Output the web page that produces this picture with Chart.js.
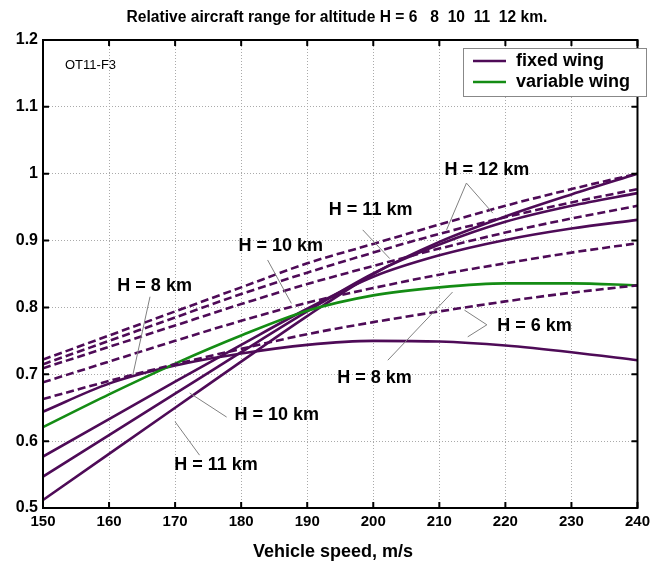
<!DOCTYPE html>
<html>
<head>
<meta charset="utf-8">
<script src="https://cdn.jsdelivr.net/npm/chart.js@4.4.1/dist/chart.umd.min.js"></script>
<style>
html,body{margin:0;padding:0;background:#fff;}
#wrap{width:655px;height:565px;position:relative;}
</style>
</head>
<body>
<div id="wrap"><canvas id="c" width="655" height="565"></canvas></div>
<script>
// ---- data ----
const speeds = [150,160,170,180,190,200,210,220,230,240];
const xTickLabels = ['150','160','170','180','190','200','210','220','230','240'];
const yTickLabels = ['0.5','0.6','0.7','0.8','0.9','1','1.1','1.2'];
const yTickValues = [0.5,0.6,0.7,0.8,0.9,1.0,1.1,1.2];

// fixed wing, solid
const fixedH6  = [0.644,0.686,0.713,0.731,0.744,0.750,0.749,0.743,0.733,0.721];
const fixedH8  = [0.577,0.633,0.689,0.744,0.798,0.846,0.878,0.901,0.918,0.931];
const fixedH10 = [0.547,0.609,0.671,0.733,0.794,0.851,0.894,0.928,0.952,0.971];
const fixedH12 = [0.512,0.581,0.650,0.719,0.787,0.850,0.898,0.936,0.969,1.000];
// fixed wing, dashed
const dashA = [0.722,0.758,0.794,0.830,0.866,0.895,0.924,0.952,0.977,1.000];
const dashB = [0.715,0.750,0.785,0.820,0.852,0.882,0.910,0.935,0.957,0.977];
const dashC = [0.709,0.741,0.773,0.805,0.835,0.862,0.888,0.912,0.933,0.952];
const dashD = [0.688,0.719,0.750,0.780,0.807,0.829,0.849,0.866,0.882,0.896];
const dashE = [0.663,0.690,0.715,0.738,0.760,0.778,0.794,0.809,0.822,0.833];
// variable wing
const variableWing = [0.621,0.670,0.716,0.758,0.795,0.818,0.830,0.836,0.836,0.833];

// annotations: text, text position, pointer segments (data coords)
const notes = [
  {text:'H = 12 km', at:[217.2,1.0055], lines:[[[214.1,0.986],[211.1,0.916]],[[214.1,0.986],[218.1,0.941]]]},
  {text:'H = 11 km', at:[199.6,0.946], lines:[[[198.4,0.916],[202.5,0.873]]]},
  {text:'H = 10 km', at:[186.0,0.892], lines:[[[184.0,0.871],[187.6,0.806]]]},
  {text:'H = 8 km',  at:[166.9,0.832], lines:[[[166.2,0.816],[163.6,0.699]]]},
  {text:'H = 6 km',  at:[224.4,0.772], lines:[[[217.2,0.774],[213.8,0.796]],[[217.2,0.774],[214.3,0.756]]]},
  {text:'H = 8 km',  at:[200.2,0.694], lines:[[[202.2,0.721],[212.0,0.823]]]},
  {text:'H = 10 km', at:[185.4,0.639], lines:[[[177.8,0.636],[172.2,0.672]]]},
  {text:'H = 11 km', at:[176.2,0.564], lines:[[[173.7,0.579],[170.0,0.629]]]}
];

const PURPLE = '#4e0b57';
const GREEN = '#148c14';
const FONT = '"Liberation Sans", Arial, sans-serif';

const pts = arr => arr.map((v,i)=>({x:speeds[i], y:v}));
function ds(label, arr, color, dashed){
  return {label, data:pts(arr), borderColor:color, backgroundColor:color,
    borderWidth:2.6, borderDash: dashed?[8,4]:[], pointRadius:0,
    cubicInterpolationMode:'monotone', fill:false};
}

const datasets = [
  ds('dash A', dashA, PURPLE, true),
  ds('dash B', dashB, PURPLE, true),
  ds('dash C', dashC, PURPLE, true),
  ds('dash D', dashD, PURPLE, true),
  ds('dash E', dashE, PURPLE, true),
  ds('variable wing', variableWing, GREEN, false),
  ds('fixed H6', fixedH6, PURPLE, false),
  ds('fixed H8', fixedH8, PURPLE, false),
  ds('fixed H10', fixedH10, PURPLE, false),
  ds('fixed H12', fixedH12, PURPLE, false)
];

const decor = {
  id:'decor',
  afterDatasetsDraw(chart){
    const {ctx, chartArea:a, scales:{x,y}} = chart;
    ctx.save();
    // annotation pointers + text
    ctx.strokeStyle = '#808080';
    ctx.lineWidth = 1;
    notes.forEach(n=>{
      n.lines.forEach(seg=>{
        ctx.beginPath();
        ctx.moveTo(x.getPixelForValue(seg[0][0]), y.getPixelForValue(seg[0][1]));
        ctx.lineTo(x.getPixelForValue(seg[1][0]), y.getPixelForValue(seg[1][1]));
        ctx.stroke();
      });
    });
    ctx.fillStyle = '#000';
    ctx.font = 'bold 18px ' + FONT;
    ctx.textAlign = 'center';
    ctx.textBaseline = 'middle';
    notes.forEach(n=>{
      ctx.fillText(n.text, x.getPixelForValue(n.at[0]), y.getPixelForValue(n.at[1]));
    });
    // frame
    ctx.strokeStyle = '#000';
    ctx.lineWidth = 2;
    ctx.strokeRect(a.left, a.top, a.right-a.left, a.bottom-a.top);
    // inward ticks
    const tl = 6;
    speeds.forEach(v=>{
      const px = x.getPixelForValue(v);
      ctx.beginPath();
      ctx.moveTo(px, a.bottom); ctx.lineTo(px, a.bottom - tl);
      ctx.moveTo(px, a.top); ctx.lineTo(px, a.top + tl);
      ctx.stroke();
    });
    yTickValues.forEach(v=>{
      const py = y.getPixelForValue(v);
      ctx.beginPath();
      ctx.moveTo(a.left, py); ctx.lineTo(a.left + tl, py);
      ctx.moveTo(a.right, py); ctx.lineTo(a.right - tl, py);
      ctx.stroke();
    });
    // legend
    const lx = 463, ly = 48, lw = 183, lh = 48;
    ctx.fillStyle = '#fff';
    ctx.fillRect(lx, ly, lw, lh);
    ctx.strokeStyle = '#888';
    ctx.lineWidth = 1;
    ctx.strokeRect(lx+0.5, ly+0.5, lw, lh);
    const items = [{t:'fixed wing', c:PURPLE},{t:'variable wing', c:GREEN}];
    items.forEach((it,i)=>{
      const yy = ly + 13 + i*21;
      ctx.strokeStyle = it.c; ctx.lineWidth = 2.5;
      ctx.beginPath(); ctx.moveTo(lx+10, yy); ctx.lineTo(lx+43, yy); ctx.stroke();
      ctx.fillStyle = '#000';
      ctx.font = 'bold 18px ' + FONT;
      ctx.textAlign = 'left';
      ctx.fillText(it.t, lx+53, yy);
    });
    // small tag
    ctx.font = '13px ' + FONT;
    ctx.textAlign = 'left';
    ctx.fillText('OT11-F3', 65, 65);
    // titles
    ctx.font = 'bold 15.6px ' + FONT;
    ctx.textAlign = 'center';
    ctx.fillText('Relative aircraft range for altitude H = 6   8  10  11  12 km.', 337, 18);
    ctx.font = 'bold 18px ' + FONT;
    ctx.fillText('Vehicle speed, m/s', 333, 552);
    ctx.restore();
  }
};

new Chart(document.getElementById('c'), {
  type:'line',
  data:{datasets},
  options:{
    responsive:false,
    animation:false,
    layout:{padding:{top:40, right:17, left:0, bottom:0}},
    plugins:{legend:{display:false}, title:{display:false}, tooltip:{enabled:false}},
    scales:{
      x:{type:'linear', min:150, max:240,
        afterFit(s){ s.height = 57; },
        afterBuildTicks(s){ s.ticks = speeds.map(v=>({value:v})); },
        ticks:{color:'#000', font:{family:FONT, size:15, weight:'bold'}, padding:5, maxRotation:0,
          callback:(v,i)=>xTickLabels[i]},
        grid:{color:'#aaa', lineWidth:1, drawTicks:false, tickLength:0},
        border:{display:false, dash:[1,2]}
      },
      y:{type:'linear', min:0.5, max:1.2,
        afterFit(s){ s.width = 43; },
        afterBuildTicks(s){ s.ticks = yTickValues.map(v=>({value:v})); },
        ticks:{color:'#000', font:{family:FONT, size:16, weight:'bold'}, padding:5,
          callback:(v,i)=>yTickLabels[i]},
        grid:{color:'#aaa', lineWidth:1, drawTicks:false, tickLength:0},
        border:{display:false, dash:[1,2]}
      }
    }
  },
  plugins:[decor]
});
</script>
</body>
</html>
